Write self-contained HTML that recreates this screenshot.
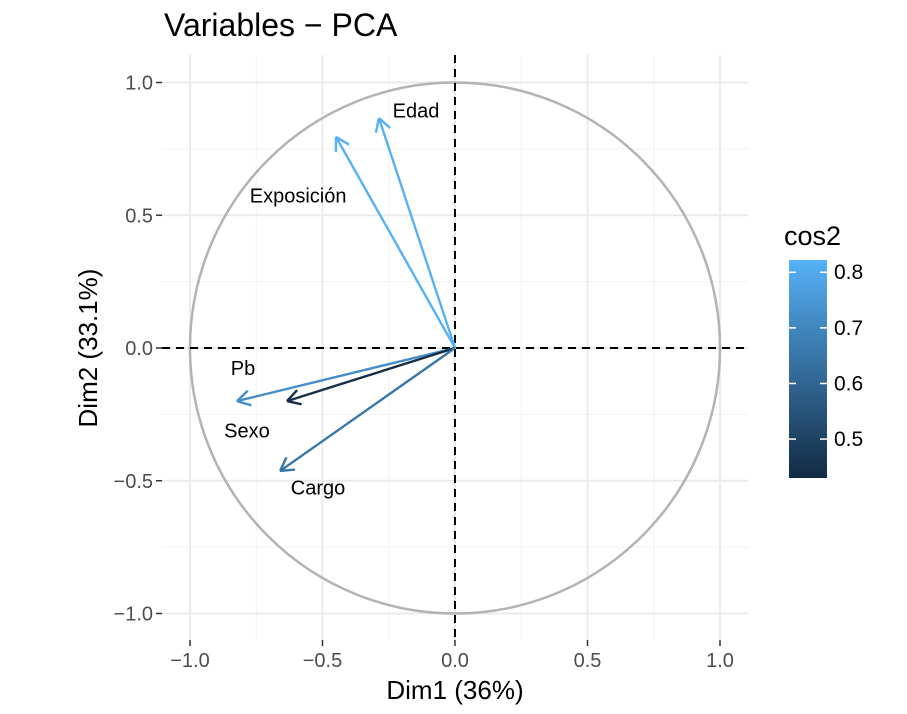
<!DOCTYPE html>
<html><head><meta charset="utf-8"><style>
body{margin:0;background:#fff;width:907px;height:709px;overflow:hidden}
text{font-family:"Liberation Sans",Arial,sans-serif}
</style></head><body>
<svg id="chart" width="907" height="709" xmlns="http://www.w3.org/2000/svg">
<defs><linearGradient id="cg" x1="0" y1="1" x2="0" y2="0"><stop offset="0" stop-color="#132B43"/><stop offset="1" stop-color="#56B1F7"/></linearGradient></defs>
<g id="grid"></g><g id="marks"></g><g id="labels"></g>
</svg>
<script>
const varNames=["Edad","Exposición","Pb","Sexo","Cargo"];
const dim1=[-0.287,-0.449,-0.823,-0.634,-0.66];
const dim2=[0.866,0.795,-0.2,-0.2,-0.463];
const labelX=[-0.147,-0.592,-0.8,-0.785,-0.517];
const labelY=[0.895,0.575,-0.075,-0.31,-0.525];
const ticks=[-1,-0.5,0,0.5,1];
const tickLabels=["−1.0","−0.5","0.0","0.5","1.0"];
const minorTicks=[-0.75,-0.25,0.25,0.75];
const cbTicks=[0.5,0.6,0.7,0.8];
const cbMin=0.43,cbMax=0.822;
const NS="http://www.w3.org/2000/svg";
const X=v=>455+v*265, Y=v=>348-v*265.5;
const L={l:162,r:748,t:55,b:640};
function mk(p,t,a){const e=document.createElementNS(NS,t);for(const k in a)e.setAttribute(k,a[k]);p.appendChild(e);return e;}
const g=document.getElementById('grid'),m=document.getElementById('marks'),lb=document.getElementById('labels'),svg=document.getElementById('chart');
minorTicks.forEach(v=>{
 let a=mk(g,'line',{x1:X(v),x2:X(v),y1:L.t,y2:L.b,stroke:'#F2F2F2','stroke-width':1});
 
 let b=mk(g,'line',{x1:L.l,x2:L.r,y1:Y(v),y2:Y(v),stroke:'#F2F2F2','stroke-width':1});
 
});
ticks.forEach((v,i)=>{
 let a=mk(g,'line',{x1:X(v),x2:X(v),y1:L.t,y2:L.b,stroke:'#EBEBEB','stroke-width':2});
 
 let b=mk(g,'line',{x1:L.l,x2:L.r,y1:Y(v),y2:Y(v),stroke:'#EBEBEB','stroke-width':2});
 
 let t1=mk(g,'line',{x1:X(v),x2:X(v),y1:L.b,y2:L.b+6,stroke:'#333','stroke-width':1.5});
 
 let t2=mk(g,'line',{x1:L.l-6,x2:L.l,y1:Y(v),y2:Y(v),stroke:'#333','stroke-width':1.5});
 
 let tx=mk(g,'text',{x:X(v),y:667,'text-anchor':'middle','font-size':20,fill:'#4D4D4D'});tx.textContent=tickLabels[i];
 
 let ty=mk(g,'text',{x:L.l-9,y:Y(v)+7,'text-anchor':'end','font-size':20,fill:'#4D4D4D'});ty.textContent=tickLabels[i];
 
});
let c=mk(m,'ellipse',{cx:X(0),cy:Y(0),rx:265,ry:265.5,fill:'none',stroke:'#B3B3B3','stroke-width':2.5});

let h=mk(m,'line',{x1:L.l,x2:L.r,y1:Y(0),y2:Y(0),stroke:'#000','stroke-width':2,'stroke-dasharray':'8,6'});

let vv=mk(m,'line',{x1:X(0),x2:X(0),y1:L.t,y2:L.b,stroke:'#000','stroke-width':2,'stroke-dasharray':'8,6'});

function hex(n){return Math.round(n).toString(16).padStart(2,'0');}
function col(v){let t=Math.max(0,Math.min(1,(v-cbMin)/(cbMax-cbMin)));const a=[0x13,0x2B,0x43],b=[0x56,0xB1,0xF7];return '#'+a.map((x,i)=>hex(x+(b[i]-x)*t)).join('');}
varNames.forEach((n,i)=>{
 const cos2=dim1[i]*dim1[i]+dim2[i]*dim2[i],cl=col(cos2);
 const x0=X(0),y0=Y(0),x1=X(dim1[i]),y1=Y(dim2[i]);
 const grp=mk(m,'g',{});
 
 
 mk(grp,'line',{x1:x0,y1:y0,x2:x1,y2:y1,stroke:cl,'stroke-width':2.4});
 const ang=Math.atan2(y1-y0,x1-x0),hl=15;
 [Math.PI/6,-Math.PI/6].forEach(d=>{mk(grp,'line',{x1:x1,y1:y1,x2:x1-hl*Math.cos(ang+d),y2:y1-hl*Math.sin(ang+d),stroke:cl,'stroke-width':2.4});});
 const t=mk(lb,'text',{x:X(labelX[i]),y:Y(labelY[i])+7,'text-anchor':'middle','font-size':20,fill:'#000'});t.textContent=n;
 
 
});
const title=mk(svg,'text',{x:164,y:36,'font-size':32,fill:'#000'});title.textContent="Variables − PCA";

const xt=mk(svg,'text',{x:455,y:699,'text-anchor':'middle','font-size':26,fill:'#000'});xt.textContent="Dim1 (36%)";

const yt=mk(svg,'text',{x:0,y:0,'text-anchor':'middle','font-size':26,fill:'#000',transform:'translate(97,348) rotate(-90)'});yt.textContent="Dim2 (33.1%)";

const lt=mk(svg,'text',{x:784,y:245,'font-size':27,fill:'#000'});lt.textContent="cos2";

const CB=v=>478-(v-cbMin)/(cbMax-cbMin)*218;
const bar=mk(svg,'rect',{x:789,y:260,width:38,height:218,fill:'url(#cg)'});

cbTicks.forEach(v=>{
 mk(svg,'line',{x1:789,x2:796,y1:CB(v),y2:CB(v),stroke:'#fff','stroke-width':1.5});
 mk(svg,'line',{x1:820,x2:827,y1:CB(v),y2:CB(v),stroke:'#fff','stroke-width':1.5});
 const t=mk(svg,'text',{x:834,y:CB(v)+7,'font-size':21,fill:'#000'});t.textContent=v.toFixed(1);
 
});
</script>
</body></html>
